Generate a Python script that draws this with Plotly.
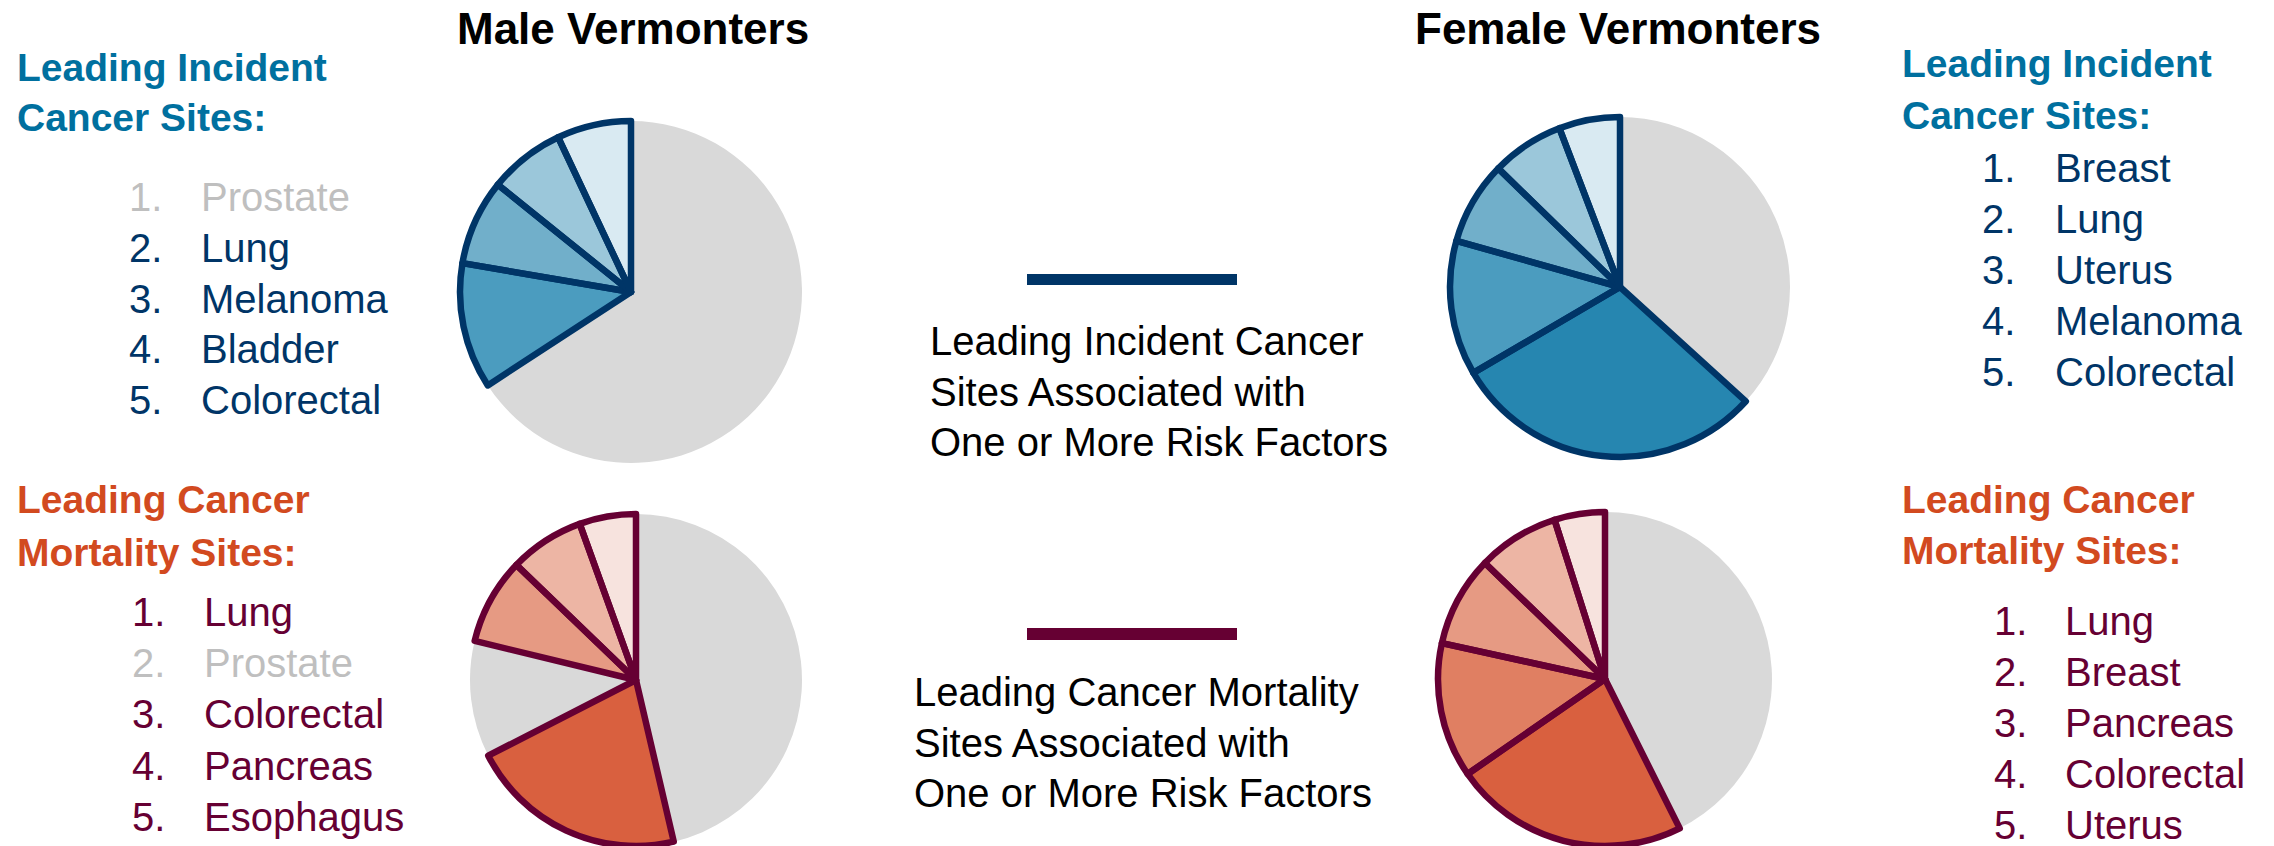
import plotly.graph_objects as go

W, H = 2274, 846

# ---------------- data ----------------
# Slice order is clockwise from 12 o'clock; "other" (grey) first.
male_inc_labels = ["Prostate & all other sites", "Lung", "Melanoma", "Bladder", "Colorectal"]
male_inc_values = [65.8, 11.9, 8.1, 7.2, 7.0]
male_inc_rank = [0, 2, 3, 4, 5]          # 0 = not risk-factor associated (grey)

male_mort_labels = ["All other sites", "Lung", "Prostate", "Colorectal", "Pancreas", "Esophagus"]
male_mort_values = [46.3, 21.1, 11.3, 8.4, 7.3, 5.5]
male_mort_rank = [0, 1, 0, 3, 4, 5]

female_inc_labels = ["All other sites", "Breast", "Lung", "Uterus", "Melanoma", "Colorectal"]
female_inc_values = [36.7, 29.8, 12.8, 7.9, 6.9, 5.8]
female_inc_rank = [0, 1, 2, 3, 4, 5]

female_mort_labels = ["All other sites", "Lung", "Breast", "Pancreas", "Colorectal", "Uterus"]
female_mort_values = [42.7, 22.8, 13.1, 8.8, 7.9, 4.9]
female_mort_rank = [0, 1, 2, 3, 4, 5]

male_inc_list = ["Prostate", "Lung", "Melanoma", "Bladder", "Colorectal"]
male_inc_list_grey = [True, False, False, False, False]
male_mort_list = ["Lung", "Prostate", "Colorectal", "Pancreas", "Esophagus"]
male_mort_list_grey = [False, True, False, False, False]
female_inc_list = ["Breast", "Lung", "Uterus", "Melanoma", "Colorectal"]
female_mort_list = ["Lung", "Breast", "Pancreas", "Colorectal", "Uterus"]

inc_legend_lines = ["Leading Incident Cancer", "Sites Associated with", "One or More Risk Factors"]
mort_legend_lines = ["Leading Cancer Mortality", "Sites Associated with", "One or More Risk Factors"]

# ---------------- styles ----------------
GREY = "#D9D9D9"
BLUE_SHADES = {1: "#2686B0", 2: "#4B9CBF", 3: "#71AFCA", 4: "#9BC7DA", 5: "#D9EAF2"}
ORANGE_SHADES = {1: "#D9603F", 2: "#E07F62", 3: "#E69A83", 4: "#EDB5A4", 5: "#F7E3DE"}
NAVY = "#003567"
MAROON = "#660033"
HEAD_BLUE = "#00709F"
HEAD_ORANGE = "#D24A1F"
TEXT_GREY = "#BFBFBF"
LINE_W = 6.5

fig = go.Figure()


def px_dom(cx, cy, r):
    x0, x1 = (cx - r) / W, (cx + r) / W
    y0, y1 = (H - cy - r) / H, (H - cy + r) / H
    return dict(x=[max(0, x0), min(1, x1)], y=[max(0, y0), min(1, y1)])


def add_pie(labels, values, ranks, shades, edge, cx, cy, r):
    dom = px_dom(cx, cy, r)
    colors = [GREY if k == 0 else shades[k] for k in ranks]
    fig.add_trace(go.Pie(
        labels=labels, values=values, sort=False, direction="clockwise", rotation=0,
        marker=dict(colors=colors, line=dict(width=0)),
        textinfo="none", domain=dom, showlegend=False,
        hovertemplate="%{label}: %{value}%<extra></extra>"))
    fig.add_trace(go.Pie(
        labels=labels, values=values, sort=False, direction="clockwise", rotation=0,
        marker=dict(colors=["rgba(0,0,0,0)"] * len(values),
                    line=dict(color=[("rgba(0,0,0,0)" if k == 0 else edge) for k in ranks],
                              width=[(0 if k == 0 else LINE_W) for k in ranks])),
        textinfo="none", domain=dom, showlegend=False, hoverinfo="skip"))


add_pie(male_inc_labels, male_inc_values, male_inc_rank, BLUE_SHADES, NAVY, 631, 292, 171)
add_pie(male_mort_labels, male_mort_values, male_mort_rank, ORANGE_SHADES, MAROON, 636, 680, 166)
add_pie(female_inc_labels, female_inc_values, female_inc_rank, BLUE_SHADES, NAVY, 1620, 287, 170)
add_pie(female_mort_labels, female_mort_values, female_mort_rank, ORANGE_SHADES, MAROON, 1605, 679, 167)

ann = []
FONT = "Liberation Sans, Arial, sans-serif"


def text(x, y, s, size, color, bold=False, anchor="left"):
    ann.append(dict(x=x / W, y=1 - y / H, xref="paper", yref="paper", text=(f"<b>{s}</b>" if bold else s),
                    showarrow=False, xanchor=anchor, yanchor="middle",
                    font=dict(family=FONT, size=size, color=color)))


# titles
text(633, 29, "Male Vermonters", 44, "#000000", bold=True, anchor="center")
text(1618, 29, "Female Vermonters", 44, "#000000", bold=True, anchor="center")

HS = 39
LS = 40
# left headings + lists
text(15, 67, "Leading Incident", HS, HEAD_BLUE, bold=True)
text(15, 118, "Cancer Sites:", HS, HEAD_BLUE, bold=True)
for i, (name, g) in enumerate(zip(male_inc_list, male_inc_list_grey)):
    y = 197 + i * 50.8
    c = TEXT_GREY if g else NAVY
    text(127, y, f"{i+1}.", LS, c)
    text(199, y, name, LS, c)

text(15, 500, "Leading Cancer", HS, HEAD_ORANGE, bold=True)
text(15, 552, "Mortality Sites:", HS, HEAD_ORANGE, bold=True)
for i, (name, g) in enumerate(zip(male_mort_list, male_mort_list_grey)):
    y = 612 + i * 51.2
    c = TEXT_GREY if g else MAROON
    text(130, y, f"{i+1}.", LS, c)
    text(202, y, name, LS, c)

# right headings + lists
text(1900, 63, "Leading Incident", HS, HEAD_BLUE, bold=True)
text(1900, 115, "Cancer Sites:", HS, HEAD_BLUE, bold=True)
for i, name in enumerate(female_inc_list):
    y = 168 + i * 51
    text(1980, y, f"{i+1}.", LS, NAVY)
    text(2053, y, name, LS, NAVY)

text(1900, 500, "Leading Cancer", HS, HEAD_ORANGE, bold=True)
text(1900, 550, "Mortality Sites:", HS, HEAD_ORANGE, bold=True)
for i, name in enumerate(female_mort_list):
    y = 621 + i * 51
    text(1992, y, f"{i+1}.", LS, MAROON)
    text(2063, y, name, LS, MAROON)

# center legend text
CS = 40
for i, s in enumerate(inc_legend_lines):
    text(928, 341 + i * 50.5, s, CS, "#000000")
for i, s in enumerate(mort_legend_lines):
    text(912, 692 + i * 50.5, s, CS, "#000000")

shapes = [
    dict(type="rect", xref="paper", yref="paper", x0=1027 / W, x1=1237 / W,
         y0=1 - 285 / H, y1=1 - 274 / H, fillcolor=NAVY, line=dict(width=0)),
    dict(type="rect", xref="paper", yref="paper", x0=1027 / W, x1=1237 / W,
         y0=1 - 640 / H, y1=1 - 628 / H, fillcolor=MAROON, line=dict(width=0)),
]

fig.update_layout(width=W, height=H, margin=dict(l=0, r=0, t=0, b=0),
                  paper_bgcolor="white", plot_bgcolor="white",
                  annotations=ann, shapes=shapes)

fig.write_html("out.html", config={"displayModeBar": False},
               post_script="document.body.style.margin='0px';document.body.style.overflow='hidden';")
